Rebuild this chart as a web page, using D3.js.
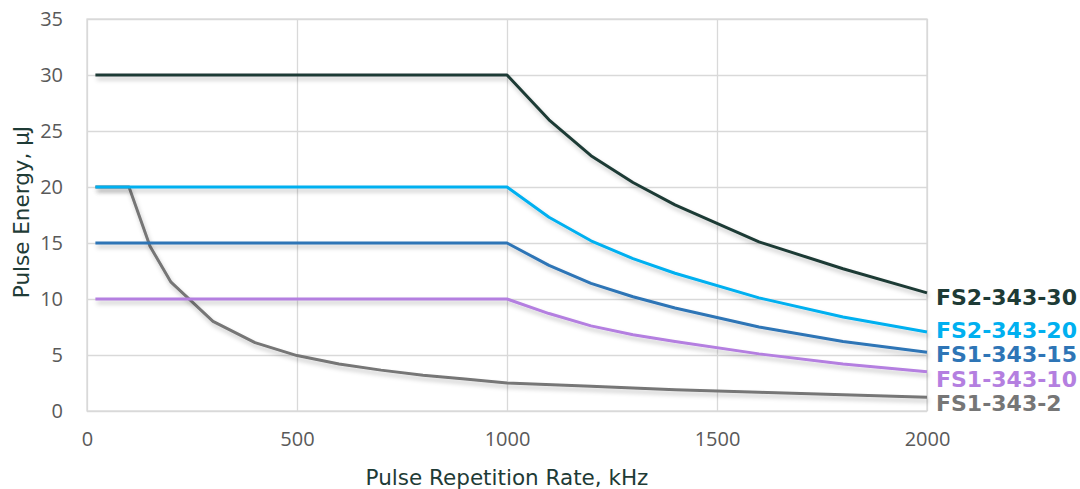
<!DOCTYPE html>
<html>
<head>
<meta charset="utf-8">
<script src="https://cdn.jsdelivr.net/npm/d3@7"></script>
<style>
  body { margin: 0; background: #fff; }
  svg { display: block; }
</style>
</head>
<body>
<div id="chart"></div>
<script>
// Pulse energy (uJ) vs repetition rate (kHz)
const fs2_30 = [[20, 30], [1000, 30], [1100, 26], [1200, 22.8], [1300, 20.4], [1400, 18.4], [1600, 15.1], [1800, 12.7], [2000, 10.55]];
const fs2_20 = [[20, 20], [1000, 20], [1100, 17.3], [1200, 15.2], [1300, 13.6], [1400, 12.3], [1600, 10.1], [1800, 8.4], [2000, 7.05]];
const fs1_15 = [[20, 15], [1000, 15], [1100, 13], [1200, 11.4], [1300, 10.2], [1400, 9.2], [1600, 7.5], [1800, 6.2], [2000, 5.25]];
const fs1_10 = [[20, 10], [1000, 10], [1100, 8.7], [1200, 7.6], [1300, 6.8], [1400, 6.2], [1600, 5.1], [1800, 4.2], [2000, 3.5]];
const fs1_2 = [[20, 20], [100, 20], [150, 14.7], [200, 11.5], [300, 8.0], [400, 6.1], [500, 4.95], [600, 4.2], [700, 3.65], [800, 3.2], [900, 2.85], [1000, 2.5], [1200, 2.2], [1400, 1.9], [1600, 1.67], [1800, 1.45], [2000, 1.22]];

const seriesNames = ["FS2-343-30", "FS2-343-20", "FS1-343-15", "FS1-343-10", "FS1-343-2"];
const seriesColors = ["#1e3b36", "#00b0f0", "#2e75b6", "#b47fe0", "#767676"];
const seriesData = [fs2_30, fs2_20, fs1_15, fs1_10, fs1_2];

const xTicks = [0, 500, 1000, 1500, 2000];
const yTicks = [0, 5, 10, 15, 20, 25, 30, 35];

const margin = {top: 19, right: 153, bottom: 78, left: 87},
      width = 1080 - margin.left - margin.right,
      height = 489 - margin.top - margin.bottom;

const svg = d3.select("#chart")
  .append("svg")
    .attr("width", 1080)
    .attr("height", 489);

// soft drop shadow under the lines
const defs = svg.append("defs");
const filt = defs.append("filter")
    .attr("id", "shadow")
    .attr("x", "-5%").attr("y", "-20%")
    .attr("width", "110%").attr("height", "160%");
filt.append("feDropShadow")
    .attr("dx", 1.5).attr("dy", 3.5)
    .attr("stdDeviation", 2.2)
    .attr("flood-color", "#000")
    .attr("flood-opacity", 0.22);

const g = svg.append("g")
    .attr("transform", `translate(${margin.left},${margin.top})`);

const x = d3.scaleLinear().domain([0, 2000]).range([0, width]);
const y = d3.scaleLinear().domain([0, 35]).range([height, 0]);

// gridlines
g.append("g")
  .call(d3.axisLeft(y).tickValues(yTicks).tickSize(-width).tickFormat(""))
  .call(s => s.select(".domain").remove())
  .selectAll("line").attr("stroke", "#d9d9d9").attr("stroke-width", 1.3);

g.append("g")
  .attr("transform", `translate(0,${height})`)
  .call(d3.axisBottom(x).tickValues(xTicks).tickSize(-height).tickFormat(""))
  .call(s => s.select(".domain").remove())
  .selectAll("line").attr("stroke", "#d9d9d9").attr("stroke-width", 1.3);

// plot frame
g.append("rect")
  .attr("x", 0).attr("y", 0)
  .attr("width", width).attr("height", height)
  .attr("fill", "none")
  .attr("stroke", "#d9d9d9")
  .attr("stroke-width", 1.3);

// tick labels
const yAxis = g.append("g")
  .call(d3.axisLeft(y).tickValues(yTicks).tickSize(0).tickPadding(24).tickFormat(d3.format("d")));
yAxis.select(".domain").remove();
yAxis.selectAll("text")
  .attr("font-family", "'Open Sans', sans-serif")
  .attr("font-size", 20)
  .attr("fill", "#595959");

const xAxis = g.append("g")
  .attr("transform", `translate(0,${height})`)
  .call(d3.axisBottom(x).tickValues(xTicks).tickSize(0).tickPadding(21).tickFormat(d3.format("d")));
xAxis.select(".domain").remove();
xAxis.selectAll("text")
  .attr("font-family", "'Open Sans', sans-serif")
  .attr("font-size", 20)
  .attr("fill", "#595959");

// axis titles
g.append("text")
  .attr("text-anchor", "middle")
  .attr("x", width / 2)
  .attr("y", height + 74)
  .attr("font-family", "'DejaVu Sans', sans-serif")
  .attr("font-size", 21.5)
  .attr("fill", "#1e3b36")
  .text("Pulse Repetition Rate, kHz");

g.append("text")
  .attr("text-anchor", "middle")
  .attr("transform", "rotate(-90)")
  .attr("x", -height / 2 + 3)
  .attr("y", -margin.left + 29)
  .attr("font-family", "'DejaVu Sans', sans-serif")
  .attr("font-size", 21.5)
  .attr("fill", "#1e3b36")
  .text("Pulse Energy, \u00b5J");

// lines
const line = d3.line()
  .x(d => x(d[0]))
  .y(d => y(d[1]));

// draw the gray one first so the flat lines sit over it like in the original
const order = [4, 3, 2, 1, 0];
order.forEach(i => {
  g.append("path")
    .datum(seriesData[i])
    .attr("fill", "none")
    .attr("stroke", seriesColors[i])
    .attr("stroke-width", 3)
    .attr("stroke-linejoin", "round")
    .attr("filter", "url(#shadow)")
    .attr("d", line);
});

// end labels
const labelY = [297, 330, 354, 379, 403];
seriesNames.forEach((name, i) => {
  svg.append("text")
    .attr("x", 936)
    .attr("y", labelY[i])
    .attr("dy", "0.35em")
    .attr("font-family", "'DejaVu Sans', Verdana, sans-serif")
    .attr("font-weight", "bold")
    .attr("font-size", 22)
    .attr("fill", seriesColors[i])
    .text(name);
});
</script>
</body>
</html>
